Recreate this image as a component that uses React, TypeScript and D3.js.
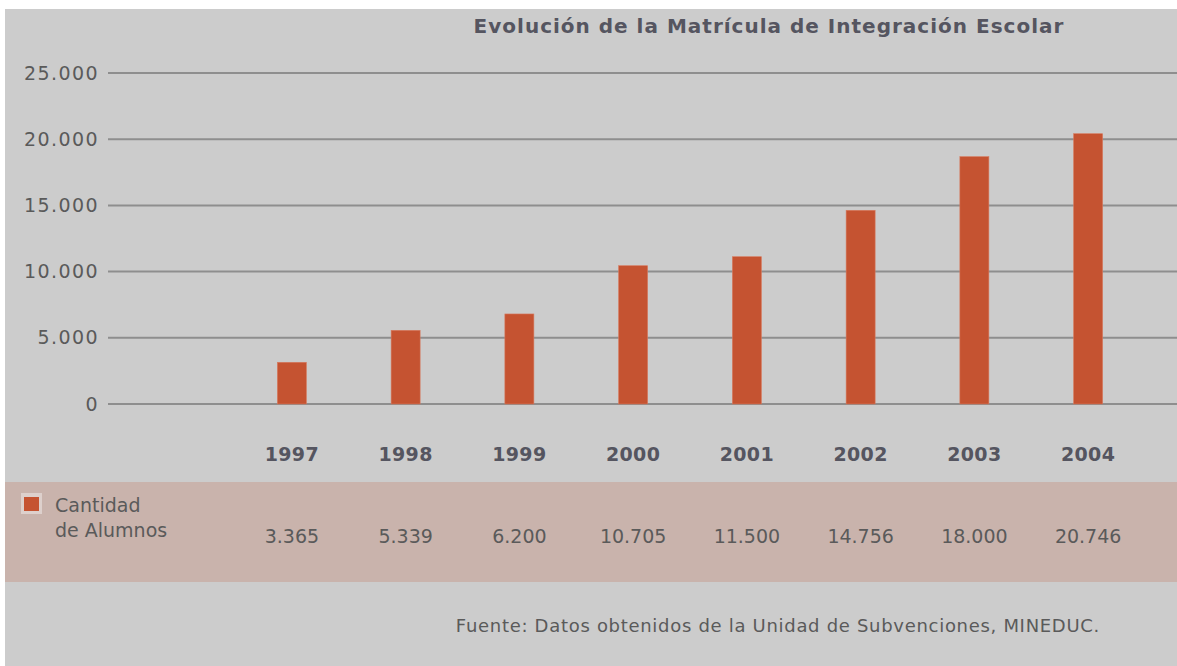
import React, { useEffect, useRef } from 'react';
import * as d3 from 'd3';

// Data
const years = ['1997', '1998', '1999', '2000', '2001', '2002', '2003', '2004'];
// bar heights as drawn in the picture
const barValues = [3150, 5565, 6800, 10445, 11125, 14630, 18680, 20415];
// values printed in the data table under the chart
const tableLabels = ['3.365', '5.339', '6.200', '10.705', '11.500', '14.756', '18.000', '20.746'];
const yTicks = [0, 5000, 10000, 15000, 20000, 25000];
const tickLabels = ['0', '5.000', '10.000', '15.000', '20.000', '25.000'];
const legendLines = ['Cantidad', 'de Alumnos'];

const title = 'Evolución de la Matrícula de Integración Escolar';
const source = 'Fuente: Datos obtenidos de la Unidad de Subvenciones, MINEDUC.';

export default function App() {
  const chartRef = useRef<SVGSVGElement>(null);

  useEffect(() => {
    const width = 1177;
    const height = 666;
    const font = '"DejaVu Sans", Verdana, sans-serif';
    const textColor = '#5a5a5a';
    const boldColor = '#555560';

    const svg = d3.select(chartRef.current);
    svg.selectAll('*').remove();

    // panel backgrounds
    svg
      .append('rect')
      .attr('x', 5)
      .attr('y', 9)
      .attr('width', width - 5)
      .attr('height', height - 9)
      .attr('fill', '#cccccc');

    svg
      .append('rect')
      .attr('x', 5)
      .attr('y', 482)
      .attr('width', width - 5)
      .attr('height', 100)
      .attr('fill', '#c9b3ac');

    // title
    svg
      .append('text')
      .attr('x', 769)
      .attr('y', 33)
      .attr('text-anchor', 'middle')
      .attr('font-family', font)
      .attr('font-size', 20)
      .attr('font-weight', 'bold')
      .attr('letter-spacing', 1)
      .attr('fill', boldColor)
      .text(title);

    const x = d3
      .scaleBand<string>()
      .domain(years)
      .range([235, 1145])
      .paddingInner(0.745)
      .paddingOuter(0.3725);

    const y = d3.scaleLinear().domain([0, 25000]).range([404, 73]);

    // gridlines
    svg
      .append('g')
      .selectAll('line')
      .data(yTicks)
      .join('line')
      .attr('x1', 108)
      .attr('x2', width)
      .attr('y1', (d) => y(d))
      .attr('y2', (d) => y(d))
      .attr('stroke', '#8e8e8e')
      .attr('stroke-width', 2);

    // y tick labels
    svg
      .append('g')
      .selectAll('text')
      .data(yTicks)
      .join('text')
      .attr('x', 99)
      .attr('y', (d) => y(d))
      .attr('dy', '0.35em')
      .attr('text-anchor', 'end')
      .attr('font-family', font)
      .attr('font-size', 19)
      .attr('letter-spacing', 1.4)
      .attr('fill', textColor)
      .text((d, i) => tickLabels[i]);

    // bars
    svg
      .append('g')
      .selectAll('rect')
      .data(barValues)
      .join('rect')
      .attr('x', (d, i) => x(years[i])!)
      .attr('y', (d) => y(d))
      .attr('width', x.bandwidth())
      .attr('height', (d) => y(0) - y(d))
      .attr('fill', '#c55331')
      .attr('stroke', '#d77a5e')
      .attr('stroke-width', 0.6);

    // year labels
    svg
      .append('g')
      .selectAll('text')
      .data(years)
      .join('text')
      .attr('x', (d) => x(d)! + x.bandwidth() / 2)
      .attr('y', 461)
      .attr('text-anchor', 'middle')
      .attr('font-family', font)
      .attr('font-size', 19)
      .attr('font-weight', 'bold')
      .attr('letter-spacing', 0.3)
      .attr('fill', boldColor)
      .text((d) => d);

    // data table values
    svg
      .append('g')
      .selectAll('text')
      .data(tableLabels)
      .join('text')
      .attr('x', (d, i) => x(years[i])! + x.bandwidth() / 2)
      .attr('y', 543)
      .attr('text-anchor', 'middle')
      .attr('font-family', font)
      .attr('font-size', 19)
      .attr('fill', textColor)
      .text((d) => d);

    // legend
    svg
      .append('rect')
      .attr('x', 21)
      .attr('y', 493)
      .attr('width', 21)
      .attr('height', 21)
      .attr('fill', '#ddd0cc');

    svg
      .append('rect')
      .attr('x', 24)
      .attr('y', 497)
      .attr('width', 15)
      .attr('height', 14)
      .attr('fill', '#c55331');

    svg
      .append('g')
      .selectAll('text')
      .data(legendLines)
      .join('text')
      .attr('x', 55)
      .attr('y', (d, i) => 512 + i * 25)
      .attr('font-family', font)
      .attr('font-size', 19)
      .attr('fill', textColor)
      .text((d) => d);

    // source note
    svg
      .append('text')
      .attr('x', 1100)
      .attr('y', 632)
      .attr('text-anchor', 'end')
      .attr('font-family', font)
      .attr('font-size', 18)
      .attr('letter-spacing', 0.7)
      .attr('fill', textColor)
      .text(source);
  }, []);

  return (
    <svg
      ref={chartRef}
      width={1177}
      height={666}
      style={{ position: 'absolute', left: 0, top: 0, background: '#ffffff' }}
    />
  );
}
